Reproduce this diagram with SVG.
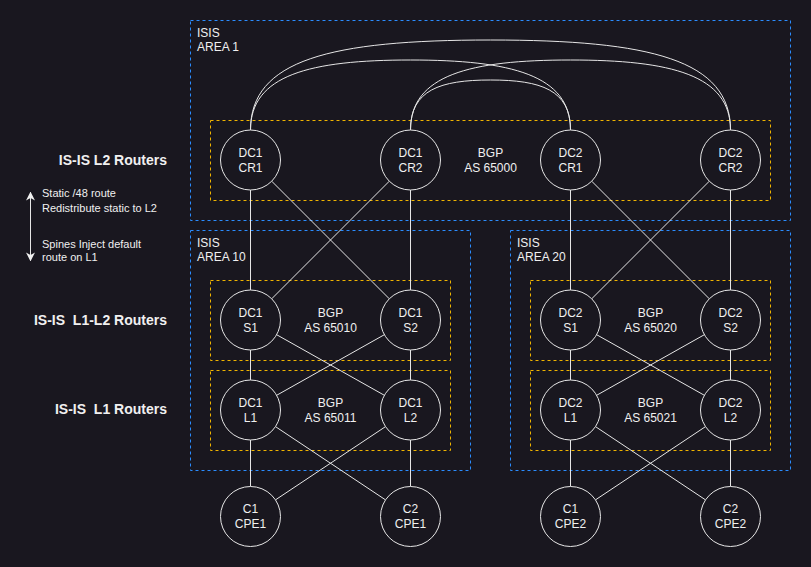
<svg xmlns="http://www.w3.org/2000/svg" width="811" height="567" viewBox="0 0 811 567">
<defs>
<style>
text{font-family:"Liberation Sans",Arial,Helvetica,sans-serif;fill:#f0f0f0}
.nt{font-size:12px;text-anchor:middle}
.lbl{font-size:12px}
.side{font-size:14px;font-weight:bold;text-anchor:end}
.note{font-size:11px}
.area{fill:none;stroke:#2b8cff;stroke-width:1;stroke-dasharray:3 3}
.bgp{fill:none;stroke:#f0b400;stroke-width:1;stroke-dasharray:3 3}
.node circle{fill:#19171f;stroke:#e6e6e6;stroke-width:1}
.conn line,.conn path{fill:none;stroke:#e6e6e6;stroke-width:1}
</style>
<marker id="ah" viewBox="0 0 10 10" refX="9" refY="5" markerWidth="9" markerHeight="9" markerUnits="userSpaceOnUse" orient="auto-start-reverse">
<path d="M0,0 L10,5 L0,10 L3,5 Z" fill="#f0f0f0"/>
</marker>
</defs>
<rect width="811" height="567" fill="#19171f"/>

<g id="areas">
<rect class="area" x="190.5" y="20.5" width="600" height="200"/>
<rect class="area" x="190.5" y="230.5" width="280" height="240"/>
<rect class="area" x="510.5" y="230.5" width="280" height="240"/>
<rect class="bgp" x="210.5" y="120.5" width="560" height="80"/>
<rect class="bgp" x="210.5" y="280.5" width="240" height="80"/>
<rect class="bgp" x="210.5" y="370.5" width="240" height="80"/>
<rect class="bgp" x="530.5" y="280.5" width="240" height="80"/>
<rect class="bgp" x="530.5" y="370.5" width="240" height="80"/>
</g>

<g id="labels">
<text class="lbl" x="197" y="37">ISIS</text>
<text class="lbl" x="197" y="51">AREA 1</text>
<text class="lbl" x="197" y="247">ISIS</text>
<text class="lbl" x="197" y="261">AREA 10</text>
<text class="lbl" x="517" y="247">ISIS</text>
<text class="lbl" x="517" y="261">AREA 20</text>
<text class="nt" x="490.5" y="157">BGP</text>
<text class="nt" x="490.5" y="172">AS 65000</text>
<text class="nt" x="330.5" y="317">BGP</text>
<text class="nt" x="330.5" y="332">AS 65010</text>
<text class="nt" x="330.5" y="407">BGP</text>
<text class="nt" x="330.5" y="422">AS 65011</text>
<text class="nt" x="650.5" y="317">BGP</text>
<text class="nt" x="650.5" y="332">AS 65020</text>
<text class="nt" x="650.5" y="407">BGP</text>
<text class="nt" x="650.5" y="422">AS 65021</text>
<text class="side" x="167" y="165">IS-IS L2 Routers</text>
<text class="side" x="167" y="325" xml:space="preserve">IS-IS  L1-L2 Routers</text>
<text class="side" x="167" y="414" xml:space="preserve">IS-IS  L1 Routers</text>
<text class="note" x="42" y="197">Static /48 route</text>
<text class="note" x="42" y="211.5">Redistribute static to L2</text>
<text class="note" x="42" y="247.5">Spines Inject default</text>
<text class="note" x="42" y="261">route on L1</text>
</g>

<g id="connectors" class="conn">
<line x1="30.5" y1="192.5" x2="30.5" y2="260.5" marker-start="url(#ah)" marker-end="url(#ah)"/>
<path d="M250.5,130 C250.5,60 330,40 490.5,40 C651,40 730.5,60 730.5,130"/>
<path d="M250.5,130 C250.5,75 310,60 410.5,60 C511,60 570.5,75 570.5,130"/>
<path d="M410.5,130 C410.5,75 470,60 570.5,60 C671,60 730.5,75 730.5,130"/>
<path d="M410.5,130 C410.5,90 440,80 490.5,80 C541,80 570.5,90 570.5,130"/>
<line x1="250.5" y1="190" x2="250.5" y2="290"/>
<line x1="410.5" y1="190" x2="410.5" y2="290"/>
<line x1="271.7" y1="181.2" x2="389.3" y2="298.8"/>
<line x1="389.3" y1="181.2" x2="271.7" y2="298.8"/>
<line x1="570.5" y1="190" x2="570.5" y2="290"/>
<line x1="730.5" y1="190" x2="730.5" y2="290"/>
<line x1="591.7" y1="181.2" x2="709.3" y2="298.8"/>
<line x1="709.3" y1="181.2" x2="591.7" y2="298.8"/>
<line x1="250.5" y1="350" x2="250.5" y2="380"/>
<line x1="410.5" y1="350" x2="410.5" y2="380"/>
<line x1="276.65" y1="334.71" x2="384.35" y2="395.29"/>
<line x1="384.35" y1="334.71" x2="276.65" y2="395.29"/>
<line x1="570.5" y1="350" x2="570.5" y2="380"/>
<line x1="730.5" y1="350" x2="730.5" y2="380"/>
<line x1="596.65" y1="334.71" x2="704.35" y2="395.29"/>
<line x1="704.35" y1="334.71" x2="596.65" y2="395.29"/>
<line x1="250.5" y1="440" x2="250.5" y2="486.5"/>
<line x1="410.5" y1="440" x2="410.5" y2="486.5"/>
<line x1="275.47" y1="426.62" x2="385.53" y2="499.88"/>
<line x1="385.53" y1="426.62" x2="275.47" y2="499.88"/>
<line x1="570.5" y1="440" x2="570.5" y2="486.5"/>
<line x1="730.5" y1="440" x2="730.5" y2="486.5"/>
<line x1="595.47" y1="426.62" x2="705.53" y2="499.88"/>
<line x1="705.53" y1="426.62" x2="595.47" y2="499.88"/>
</g>

<g id="dc1-cr1" class="node"><circle cx="250.5" cy="160" r="30"/><text class="nt" x="250.5" y="156.7">DC1</text><text class="nt" x="250.5" y="171.7">CR1</text></g>
<g id="dc1-cr2" class="node"><circle cx="410.5" cy="160" r="30"/><text class="nt" x="410.5" y="156.7">DC1</text><text class="nt" x="410.5" y="171.7">CR2</text></g>
<g id="dc2-cr1" class="node"><circle cx="570.5" cy="160" r="30"/><text class="nt" x="570.5" y="156.7">DC2</text><text class="nt" x="570.5" y="171.7">CR1</text></g>
<g id="dc2-cr2" class="node"><circle cx="730.5" cy="160" r="30"/><text class="nt" x="730.5" y="156.7">DC2</text><text class="nt" x="730.5" y="171.7">CR2</text></g>

<g id="dc1-s1" class="node"><circle cx="250.5" cy="320" r="30"/><text class="nt" x="250.5" y="316.7">DC1</text><text class="nt" x="250.5" y="331.7">S1</text></g>
<g id="dc1-s2" class="node"><circle cx="410.5" cy="320" r="30"/><text class="nt" x="410.5" y="316.7">DC1</text><text class="nt" x="410.5" y="331.7">S2</text></g>
<g id="dc2-s1" class="node"><circle cx="570.5" cy="320" r="30"/><text class="nt" x="570.5" y="316.7">DC2</text><text class="nt" x="570.5" y="331.7">S1</text></g>
<g id="dc2-s2" class="node"><circle cx="730.5" cy="320" r="30"/><text class="nt" x="730.5" y="316.7">DC2</text><text class="nt" x="730.5" y="331.7">S2</text></g>

<g id="dc1-l1" class="node"><circle cx="250.5" cy="410" r="30"/><text class="nt" x="250.5" y="406.7">DC1</text><text class="nt" x="250.5" y="421.7">L1</text></g>
<g id="dc1-l2" class="node"><circle cx="410.5" cy="410" r="30"/><text class="nt" x="410.5" y="406.7">DC1</text><text class="nt" x="410.5" y="421.7">L2</text></g>
<g id="dc2-l1" class="node"><circle cx="570.5" cy="410" r="30"/><text class="nt" x="570.5" y="406.7">DC2</text><text class="nt" x="570.5" y="421.7">L1</text></g>
<g id="dc2-l2" class="node"><circle cx="730.5" cy="410" r="30"/><text class="nt" x="730.5" y="406.7">DC2</text><text class="nt" x="730.5" y="421.7">L2</text></g>

<g id="c1-cpe1" class="node"><circle cx="250.5" cy="516.5" r="30"/><text class="nt" x="250.5" y="513.2">C1</text><text class="nt" x="250.5" y="528.2">CPE1</text></g>
<g id="c2-cpe1" class="node"><circle cx="410.5" cy="516.5" r="30"/><text class="nt" x="410.5" y="513.2">C2</text><text class="nt" x="410.5" y="528.2">CPE1</text></g>
<g id="c1-cpe2" class="node"><circle cx="570.5" cy="516.5" r="30"/><text class="nt" x="570.5" y="513.2">C1</text><text class="nt" x="570.5" y="528.2">CPE2</text></g>
<g id="c2-cpe2" class="node"><circle cx="730.5" cy="516.5" r="30"/><text class="nt" x="730.5" y="513.2">C2</text><text class="nt" x="730.5" y="528.2">CPE2</text></g>
</svg>
